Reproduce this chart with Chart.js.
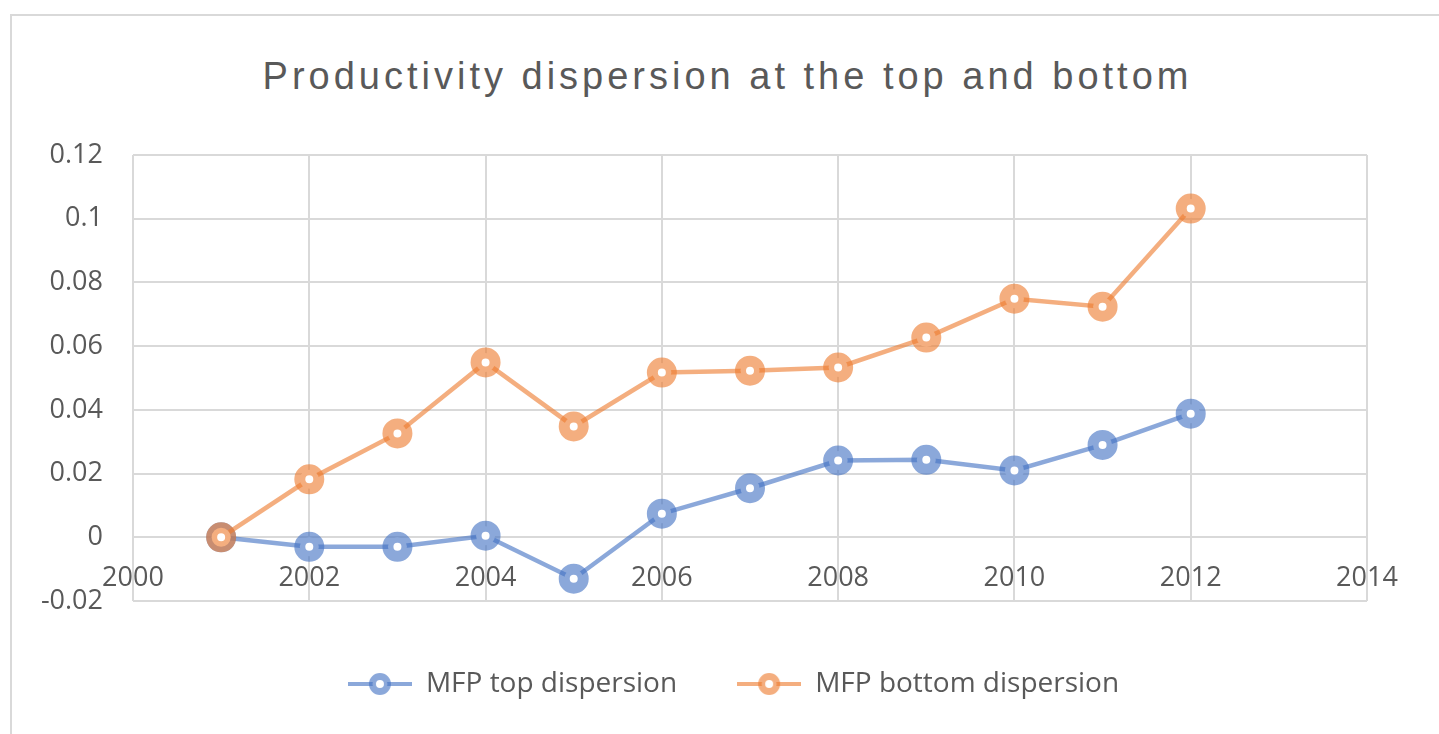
<!DOCTYPE html>
<html>
<head>
<meta charset="utf-8">
<script src="https://cdn.jsdelivr.net/npm/chart.js@4"></script>
<style>
  html, body { margin: 0; padding: 0; background: #fff; }
  body { width: 1439px; height: 734px; position: relative; overflow: hidden; }
  .frame { position: absolute; left: 10px; top: 14px; width: 1460px; height: 760px;
           border-left: 2px solid #d9d9d9; border-top: 2px solid #d9d9d9; }
  .title { position: absolute; left: 8px; top: 55px; width: 1439px; text-align: center;
           font: 38px "Liberation Sans", Arial, sans-serif; letter-spacing: 4px; color: #595959; }
  .chart-wrap { position: absolute; left: 0; top: 0; width: 1439px; height: 734px; }
</style>
</head>
<body>
<div class="frame"></div>
<div class="title">Productivity dispersion at the top and bottom</div>
<div class="chart-wrap"><canvas id="chart"></canvas></div>
<script>
// 値は図から目で読み取ったもの
const years = [2001, 2002, 2003, 2004, 2005, 2006, 2007, 2008, 2009, 2010, 2011, 2012];
const topDispersion = [0, -0.003, -0.003, 0.0005, -0.013, 0.0074, 0.0154, 0.0241, 0.0243, 0.021, 0.029, 0.0388];
const bottomDispersion = [0, 0.0182, 0.0326, 0.0549, 0.0348, 0.0517, 0.0523, 0.0533, 0.0627, 0.0749, 0.0724, 0.1032];
const seriesNames = ["MFP top dispersion", "MFP bottom dispersion"];
const xTicks = [2000, 2002, 2004, 2006, 2008, 2010, 2012, 2014];
const yTicks = [-0.02, 0, 0.02, 0.04, 0.06, 0.08, 0.1, 0.12];

const BLUE = "rgba(68,114,196,0.62)";
const ORANGE = "rgba(237,125,49,0.62)";
const TEXT = "#595959";
const GRID = "#d9d9d9";

// 凡例用：線の中央に丸マーカー
function legendIcon(color) {
  const c = document.createElement("canvas");
  c.width = 64;
  c.height = 24;
  const g = c.getContext("2d");
  g.strokeStyle = color;
  g.lineWidth = 4;
  g.beginPath();
  g.moveTo(0, 12);
  g.lineTo(64, 12);
  g.stroke();
  g.fillStyle = "#fff";
  g.beginPath();
  g.arc(32, 12, 7.5, 0, Math.PI * 2);
  g.fill();
  g.lineWidth = 7;
  g.stroke();
  return c;
}

function toPoints(values) {
  return years.map((yr, i) => ({ x: yr, y: values[i] }));
}

function lineStyle(color) {
  return {
    borderColor: color,
    backgroundColor: "#fff",
    borderWidth: 4.5,
    pointRadius: 9.5,
    pointBorderWidth: 11,
    pointBorderColor: color,
    pointBackgroundColor: "#fff",
    pointHoverRadius: 9.5,
    tension: 0,
    fill: false,
  };
}

// 凡例の位置を元の図に合わせてずらす
const legendShift = {
  id: "legendShift",
  afterLayout(chart) {
    const lg = chart.legend;
    lg.left += 50;
    lg.right += 50;
    lg.top += 9;
    lg.bottom += 9;
  },
};

const icons = [legendIcon(BLUE), legendIcon(ORANGE)];
const tickFont = { family: "'Open Sans'", size: 27 };

new Chart(document.getElementById("chart"), {
  type: "line",
  data: {
    datasets: [
      { label: seriesNames[0], data: toPoints(topDispersion), order: 2, ...lineStyle(BLUE) },
      { label: seriesNames[1], data: toPoints(bottomDispersion), order: 1, ...lineStyle(ORANGE) },
    ],
  },
  plugins: [legendShift],
  options: {
    responsive: true,
    maintainAspectRatio: false,
    animation: false,
    layout: { padding: { top: 155, left: 0, right: 72, bottom: 35 } },
    plugins: {
      title: { display: false },
      tooltip: { enabled: false },
      legend: {
        position: "bottom",
        labels: {
          color: TEXT,
          font: { family: "'Open Sans'", size: 28 },
          usePointStyle: true,
          pointStyleWidth: 64,
          padding: 60,
          sort: (a, b) => a.datasetIndex - b.datasetIndex,
          generateLabels: (chart) =>
            chart.data.datasets.map((ds, i) => ({
              text: ds.label,
              datasetIndex: i,
              pointStyle: icons[i],
              fontColor: TEXT,
              lineWidth: 0,
              hidden: false,
            })),
        },
      },
    },
    scales: {
      x: {
        type: "linear",
        position: { y: 0 },
        min: 2000,
        max: 2014,
        afterBuildTicks: (scale) => { scale.ticks = xTicks.map((v) => ({ value: v })); },
        grid: { color: GRID, lineWidth: 2, drawTicks: false },
        border: { display: false },
        ticks: {
          color: TEXT,
          font: tickFont,
          padding: 25,
          maxRotation: 0,
          callback: (v) => String(v),
        },
      },
      y: {
        min: -0.02,
        max: 0.12,
        afterBuildTicks: (scale) => { scale.ticks = yTicks.map((v) => ({ value: v })); },
        afterFit: (scale) => { scale.width = 133; },
        grid: { color: GRID, lineWidth: 2, drawTicks: false },
        border: { display: false },
        ticks: {
          color: TEXT,
          font: tickFont,
          padding: 30,
          callback: (v) => String(Math.round(v * 100) / 100),
        },
      },
    },
  },
});
</script>
</body>
</html>
